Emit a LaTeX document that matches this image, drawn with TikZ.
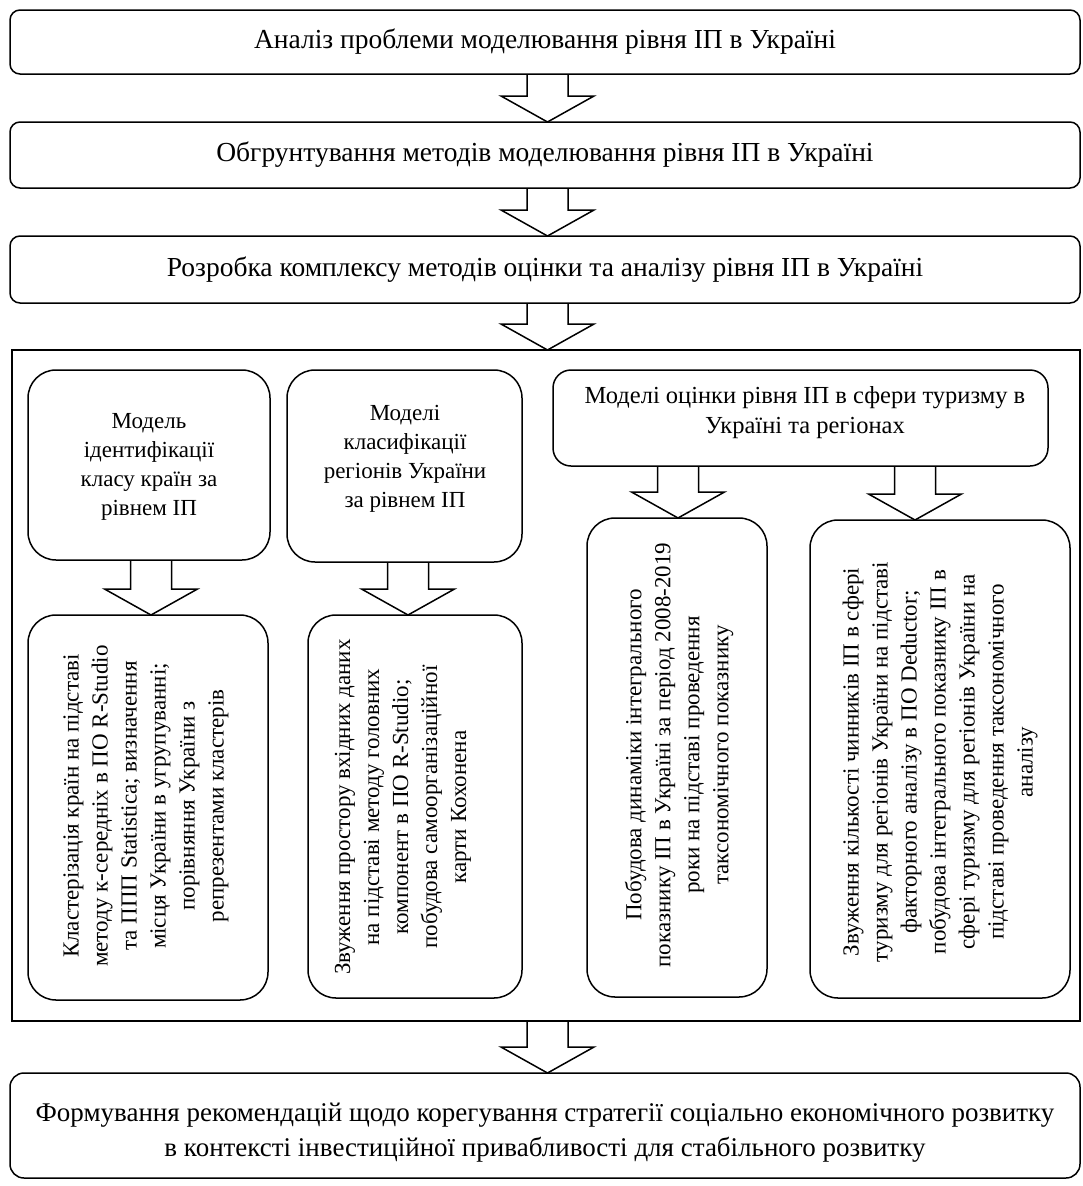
\documentclass[tikz,border=0pt]{standalone}
\usepackage{fontspec}
\setmainfont{Liberation Serif}
\usetikzlibrary{calc}
\tikzset{
  box/.style={draw, line width=1.5pt, rounded corners=10pt, inner sep=0pt, outer sep=0pt},
  ibox/.style={draw, line width=1.5pt, rounded corners=28pt, inner sep=0pt, outer sep=0pt},
  frame/.style={draw, line width=1.5pt, inner sep=0pt, outer sep=0pt},
  txt/.style={align=center, font=\fontsize{23}{29}\selectfont, inner sep=0pt},
  ctxt/.style={align=center, font=\fontsize{24.5}{30}\selectfont, inner sep=0pt},
  toptxt/.style={align=center, font=\fontsize{27.5}{32}\selectfont, inner sep=0pt},
  bottxt/.style={align=center, font=\fontsize{27}{35}\selectfont, inner sep=0pt},
  barrowline/.style={draw, line width=1.5pt, line join=miter},
}
\newcommand\blockarrow[3]{%
  \draw[barrowline] let \p1=(#2.south), \p2=(#3.north) in
    (#1pt-20.5pt,\y1) -- (#1pt-20.5pt,\y2+26pt) -- (#1pt-46.5pt,\y2+26pt) -- (#1pt,\y2)
    -- (#1pt+46.5pt,\y2+26pt) -- (#1pt+20.5pt,\y2+26pt) -- (#1pt+20.5pt,\y1);}
\begin{document}
\begin{tikzpicture}[x=1pt,y=-1pt]
\useasboundingbox[fill=white] (0,0) rectangle (1083,1186);

% top boxes
\node[box, minimum width=1070pt, minimum height=64pt] (b1) at (545,42) {};
\node[toptxt] (b1t) at (b1) {Аналіз проблеми моделювання рівня ІП в Україні};
\node[box, minimum width=1070pt, minimum height=66pt] (b2) at (545,155) {};
\node[toptxt] (b2t) at (b2) {Обгрунтування методів моделювання рівня ІП в Україні};
\node[box, minimum width=1070pt, minimum height=67pt] (b3) at (545,269.5) {};
\node[toptxt] (b3t) at (b3) {Розробка комплексу методів оцінки та аналізу рівня ІП в Україні};

% big frame
\node[frame, minimum width=1068pt, minimum height=671pt] (big) at (546,685.5) {};

% inner top boxes
\node[ibox, minimum width=242pt, minimum height=190pt] (A) at (149,465) {};
\node[txt] (At) at (149,467) {Модель\\ідентифікації\\класу країн за\\рівнем ІП};
\node[ibox, minimum width=235pt, minimum height=192pt] (B) at (404.5,466) {};
\node[txt] (Bt) at (405,459) {Моделі\\класифікації\\регіонів України\\за рівнем ІП};
\node[box, rounded corners=18pt, minimum width=495pt, minimum height=96pt] (C) at (800.5,418) {};
\node[ctxt] (Ct) at (805,413) {Моделі оцінки рівня ІП в сфери туризму в\\Україні та регіонах};

% inner bottom boxes
\node[ibox, minimum width=240pt, minimum height=385pt] (A2) at (148,807.5) {};
\node[txt, rotate=90] (A2t) at (146,806) {Кластерізація країн на підставі\\методу к-середніх в ПО R-Studio\\та ППП Statistica; визначення\\місця України в угрупуванні;\\порівняння України з\\репрезентами кластерів};
\node[ibox, minimum width=214pt, minimum height=383pt] (B2) at (415,806.5) {};
\node[txt, rotate=90] (B2t) at (403,807) {Звуження простору вхідних даних\\на підставі методу головних\\компонент в ПО R-Studio;\\побудова самоорганізаційної\\карти Кохонена};
\node[ibox, minimum width=180pt, minimum height=479pt] (C3) at (677,757.5) {};
\node[txt, rotate=90] (C3t) at (679,755) {Побудова динаміки інтегрального\\показнику ІП в Україні за період 2008-2019\\роки на підставі проведення\\таксономічного показнику};
\node[ibox, minimum width=260pt, minimum height=478pt] (C4) at (940,759) {};
\node[txt, rotate=90] (C4t) at (940,762) {Звуження кількості чинників ІП в сфері\\туризму для регіонів України на підставі\\факторного аналізу в ПО Deductor;\\побудова інтегрального показнику ІП в\\сфері туризму для регіонів України на\\підставі проведення таксономічного\\аналізу};

% final box
\node[box, rounded corners=14pt, minimum width=1070pt, minimum height=105pt] (fin) at (545,1125.5) {};
\node[bottxt] (fint) at (545,1133) {Формування рекомендацій щодо корегування стратегії соціально економічного розвитку\\в контексті інвестиційної привабливості для стабільного розвитку};

% arrows
\blockarrow{547.5}{b1}{b2}
\blockarrow{547.5}{b2}{b3}
\blockarrow{547.5}{b3}{big}
\blockarrow{151}{A}{A2}
\blockarrow{408}{B}{B2}
\blockarrow{678}{C}{C3}
\blockarrow{915}{C}{C4}
\blockarrow{547.5}{big}{fin}
\end{tikzpicture}
\end{document}
